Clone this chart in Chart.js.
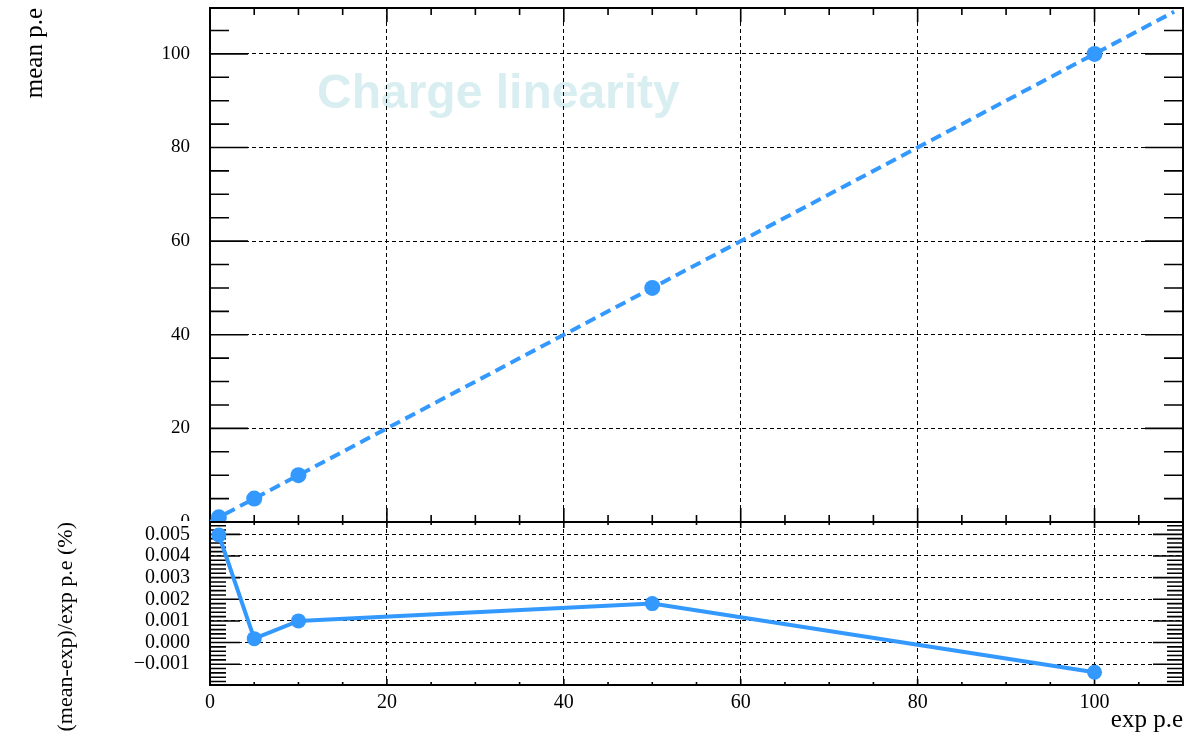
<!DOCTYPE html>
<html>
<head>
<meta charset="utf-8">
<script src="https://cdn.jsdelivr.net/npm/chart.js@4.4.0/dist/chart.umd.min.js"></script>
<style>
  html, body { margin: 0; padding: 0; background: #fff; }
  #wrap { position: relative; width: 1198px; height: 736px; overflow: hidden; }
  canvas { position: absolute; left: 0; }
  #topPad { top: 0; z-index: 1; }
  #bottomPad { top: 521px; z-index: 2; background: #fff; }
</style>
</head>
<body>
<div id="wrap">
  <canvas id="topPad" width="1198" height="524"></canvas>
  <canvas id="bottomPad" width="1198" height="215"></canvas>
</div>
<script>
//-----------------------------------------
// DATA
//-----------------------------------------
const expPe   = [1, 5, 10, 50, 100];
const meanPe  = [1.00005, 5.00001, 10.0001, 50.0009, 99.9986];
const relDiff = [0.00497, 0.00018, 0.00100, 0.00180, -0.00137];   // (mean-exp)/exp in %

// straight-line fit drawn over the upper pad
const fitX = [0, 109];
const fitY = [0, 109];

// axis ranges and labelled ticks
const xRange      = [0, 110];
const topYRange   = [0, 109.8];
const resYRange   = [-0.00196, 0.00557];
const xMajor      = [0, 20, 40, 60, 80, 100];
const topYMajor   = [0, 20, 40, 60, 80, 100];
const resYMajor   = [-0.001, 0, 0.001, 0.002, 0.003, 0.004, 0.005];

const BLUE  = "#3399ff";
const SERIF = '"Liberation Serif", "Times New Roman", serif';

function steps(from, to, step) {
  const out = [];
  const n = Math.round((to - from) / step);
  for (let i = 0; i <= n; i++) out.push(from + i * step);
  return out;
}

//-----------------------------------------
// FRAME + INWARD TICKS (both sides, like a ROOT pad)
//-----------------------------------------
function padFrame(cfg) {
  return {
    id: "padFrame",
    beforeDatasetsDraw(chart) {
      const { ctx, chartArea: a, scales: { x, y } } = chart;
      ctx.save();
      ctx.strokeStyle = "#000";
      ctx.lineWidth = 1.6;
      ctx.beginPath();
      const tickX = (v, len) => {
        const px = x.getPixelForValue(v);
        ctx.moveTo(px, a.bottom); ctx.lineTo(px, a.bottom - len);
        ctx.moveTo(px, a.top);    ctx.lineTo(px, a.top + len);
      };
      const tickY = (v, len) => {
        const py = y.getPixelForValue(v);
        ctx.moveTo(a.left, py);  ctx.lineTo(a.left + len, py);
        ctx.moveTo(a.right, py); ctx.lineTo(a.right - len, py);
      };
      cfg.xMinor.forEach(v => tickX(v, cfg.xMinorLen));
      cfg.xMajor.forEach(v => tickX(v, cfg.xMajorLen));
      cfg.yMinor.forEach(v => tickY(v, cfg.yMinorLen));
      cfg.yMajor.forEach(v => tickY(v, cfg.yMajorLen));
      ctx.stroke();
      ctx.lineWidth = 2;
      ctx.strokeRect(a.left, a.top, a.right - a.left, a.bottom - a.top);
      ctx.restore();
    }
  };
}

// faint title text sitting behind the grid
const watermark = {
  id: "watermark",
  beforeDraw(chart) {
    const ctx = chart.ctx;
    ctx.save();
    ctx.font = 'bold 48px "Liberation Sans", Arial, sans-serif';
    ctx.fillStyle = "#d9eef0";
    ctx.textBaseline = "alphabetic";
    ctx.fillText("Charge linearity", 317, 108);
    ctx.restore();
  }
};

// y title of the lower pad runs past the pad bottom, so it is drawn by hand
const resTitle = {
  id: "resTitle",
  afterDraw(chart) {
    const ctx = chart.ctx;
    ctx.save();
    ctx.translate(66.5, chart.chartArea.top);
    ctx.rotate(-Math.PI / 2);
    ctx.font = "22px " + SERIF;
    ctx.fillStyle = "#000";
    ctx.textAlign = "right";
    ctx.textBaseline = "middle";
    ctx.fillText("(mean-exp)/exp p.e (%)", 0, 0);
    ctx.restore();
  }
};

const noPad = s => { s.paddingTop = 0; s.paddingBottom = 0; s.paddingLeft = 0; s.paddingRight = 0; };

const gridCommon = { color: "#000", lineWidth: 1, drawTicks: false };
const borderCommon = { display: false, dash: [4, 3] };

//-----------------------------------------
// UPPER PAD: mean vs expected
//-----------------------------------------
new Chart(document.getElementById("topPad"), {
  type: "scatter",
  data: {
    datasets: [
      {
        data: fitX.map((v, i) => ({ x: v, y: fitY[i] })),
        showLine: true,
        borderColor: BLUE,
        borderWidth: 4,
        borderDash: [11, 6],
        pointRadius: 0
      },
      {
        data: expPe.map((v, i) => ({ x: v, y: meanPe[i] })),
        showLine: false,
        pointRadius: 8,
        pointBackgroundColor: BLUE,
        pointBorderWidth: 0
      }
    ]
  },
  options: {
    responsive: false,
    animation: false,
    events: [],
    layout: { autoPadding: false, padding: { left: 0, right: 15, top: 8, bottom: 2 } },
    plugins: { legend: { display: false }, tooltip: { enabled: false } },
    scales: {
      x: {
        type: "linear",
        min: xRange[0], max: xRange[1],
        ticks: { display: false },
        grid: gridCommon,
        border: borderCommon,
        afterBuildTicks: s => { s.ticks = xMajor.map(v => ({ value: v })); },
        afterFit: s => { s.height = 0; noPad(s); }
      },
      y: {
        type: "linear",
        min: topYRange[0], max: topYRange[1],
        ticks: {
          padding: 20,
          autoSkip: false,
          color: "#000",
          font: { family: SERIF, size: 19, lineHeight: 1 },
          callback: v => String(v)
        },
        title: {
          display: true,
          text: "mean p.e",
          align: "end",
          color: "#000",
          font: { family: SERIF, size: 25, lineHeight: 1 },
          padding: { top: 23, bottom: 0 }
        },
        grid: gridCommon,
        border: borderCommon,
        afterBuildTicks: s => { s.ticks = topYMajor.map(v => ({ value: v })); },
        afterFit: s => { s.width = 210; noPad(s); }
      }
    }
  },
  plugins: [watermark, padFrame({
    xMajor: xMajor, xMinor: steps(0, 110, 5), xMajorLen: 14, xMinorLen: 7,
    yMajor: topYMajor, yMinor: steps(0, 105, 5), yMajorLen: 38, yMinorLen: 19
  })]
});

//-----------------------------------------
// LOWER PAD: relative difference
//-----------------------------------------
new Chart(document.getElementById("bottomPad"), {
  type: "line",
  data: {
    datasets: [
      {
        data: expPe.map((v, i) => ({ x: v, y: relDiff[i] })),
        borderColor: BLUE,
        borderWidth: 4,
        pointRadius: 7.5,
        pointBackgroundColor: BLUE,
        pointBorderWidth: 0,
        tension: 0
      }
    ]
  },
  options: {
    responsive: false,
    animation: false,
    events: [],
    layout: { autoPadding: false, padding: { left: 0, right: 15, top: 1, bottom: 0 } },
    plugins: { legend: { display: false }, tooltip: { enabled: false } },
    scales: {
      x: {
        type: "linear",
        min: xRange[0], max: xRange[1],
        ticks: {
          padding: 8,
          autoSkip: false,
          maxRotation: 0,
          color: "#000",
          font: { family: SERIF, size: 20, lineHeight: 1 },
          callback: v => String(v)
        },
        title: {
          display: true,
          text: "exp p.e",
          align: "end",
          color: "#000",
          font: { family: SERIF, size: 25, lineHeight: 1 },
          padding: { top: 0, bottom: 3.5 }
        },
        grid: gridCommon,
        border: borderCommon,
        afterBuildTicks: s => { s.ticks = xMajor.map(v => ({ value: v })); },
        afterFit: s => { s.height = 51; noPad(s); }
      },
      y: {
        type: "linear",
        min: resYRange[0], max: resYRange[1],
        ticks: {
          padding: 20,
          autoSkip: false,
          color: "#000",
          font: { family: SERIF, size: 20, lineHeight: 1 },
          callback: v => (v < -1e-9 ? "\u2212" + Math.abs(v).toFixed(3) : Math.abs(v).toFixed(3))
        },
        grid: gridCommon,
        border: borderCommon,
        afterBuildTicks: s => { s.ticks = resYMajor.map(v => ({ value: v })); },
        afterFit: s => { s.width = 210; noPad(s); }
      }
    }
  },
  plugins: [resTitle, padFrame({
    xMajor: xMajor, xMinor: steps(0, 110, 5), xMajorLen: 6, xMinorLen: 3,
    yMajor: resYMajor, yMinor: steps(-0.0018, 0.0054, 0.0002), yMajorLen: 30, yMinorLen: 16
  })]
});
</script>
</body>
</html>
